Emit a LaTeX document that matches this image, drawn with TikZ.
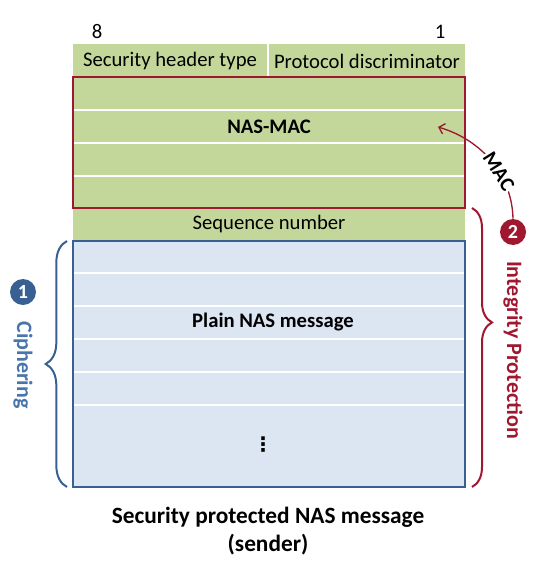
\documentclass[tikz,border=0pt]{standalone}
\usepackage{fontspec}
\setmainfont{Carlito}
\newfontfamily\simbolos{DejaVu Sans}
\usetikzlibrary{decorations.pathreplacing,arrows.meta}
\definecolor{verde}{RGB}{196,215,155}
\definecolor{azulclaro}{RGB}{220,230,242}
\definecolor{azul}{RGB}{56,96,146}
\definecolor{azultexto}{RGB}{72,118,172}
\definecolor{rojo}{RGB}{160,24,48}
\begin{document}
\begin{tikzpicture}[x=0.75pt,y=0.75pt,
    font=\fontsize{15.5}{18}\selectfont,
    linea/.style={white, line width=1.5pt},
    negrita/.style={font=\fontsize{15.5}{18}\selectfont\bfseries},
    numero/.style={circle, fill=#1, text=white, font=\fontsize{15}{18}\selectfont\bfseries, minimum size=19.5pt, inner sep=0pt},
    llave/.style={line width=1.5pt, decorate, decoration={brace, amplitude=#1}}]
    \useasboundingbox (0,0) rectangle (551,-588);

    % Cabecera y NAS-MAC (fondo verde)
    \fill[verde] (73,-44) rectangle (465,-241);
    \draw[linea] (268,-44) -- (268,-77);
    \draw[linea] (74,-110) -- (464,-110);
    \draw[linea] (74,-143) -- (464,-143);
    \draw[linea] (74,-176) -- (464,-176);
    \draw[rojo, line width=1.5pt] (73,-77) rectangle (465,-208);

    % Mensaje NAS (fondo azul)
    \fill[azulclaro] (73,-241) rectangle (465,-487);
    \draw[linea] (74,-273) -- (464,-273);
    \draw[linea] (74,-306) -- (464,-306);
    \draw[linea] (74,-339) -- (464,-339);
    \draw[linea] (74,-372) -- (464,-372);
    \draw[linea] (74,-405) -- (464,-405);
    \draw[azul, line width=1.8pt] (73,-241) rectangle (465,-487);

    % Etiquetas de los campos
    \node (ocho) at (97,-32) {8};
    \node (uno) at (440,-32) {1};
    \node (sht) at (170,-61) {Security header type};
    \node (pd) at (367,-61) {Protocol discriminator};
    \node[negrita] (nasmac) at (269,-127) {NAS-MAC};
    \node (seq) at (269,-224) {Sequence number};
    \node[negrita] (plain) at (273,-322) {Plain NAS message};
    \node[font=\fontsize{15}{18}\selectfont\simbolos\bfseries, inner sep=0pt] (puntos) at (263,-445) {⋮};

    % Llaves
    \draw[llave=15pt, rojo, decoration={aspect=0.41}] (472,-208) -- (472,-487);
    \draw[llave=16pt, azul] (67,-487) -- (67,-241);

    % Pasos 1 y 2
    \node[numero=rojo] (dos) at (513,-232) {2};
    \node[numero=azul] (paso) at (23,-292) {1};
    \node[rotate=-90, text=rojo, font=\fontsize{16.5}{18}\selectfont\bfseries] (integ) at (513,-350) {Integrity Protection};
    \node[rotate=-90, text=azultexto, font=\fontsize{16.5}{18}\selectfont\bfseries] (cif) at (23,-365) {Ciphering};

    % Flecha MAC
    \coordinate (punta) at (438,-127);
    \draw[-{Straight Barb[length=4pt,width=8pt]}, rojo, line width=1pt] (dos.north) .. controls (512,-175) and (482,-140) .. (punta)
        node[pos=0.4, sloped, fill=white, inner sep=1pt, text=black, negrita] (etiq) {MAC};

    % Titulo
    \node[align=center, font=\fontsize{17.5}{21}\selectfont\bfseries] (titulo) at (268,-531) {Security protected NAS message\\(sender)};
\end{tikzpicture}
\end{document}
